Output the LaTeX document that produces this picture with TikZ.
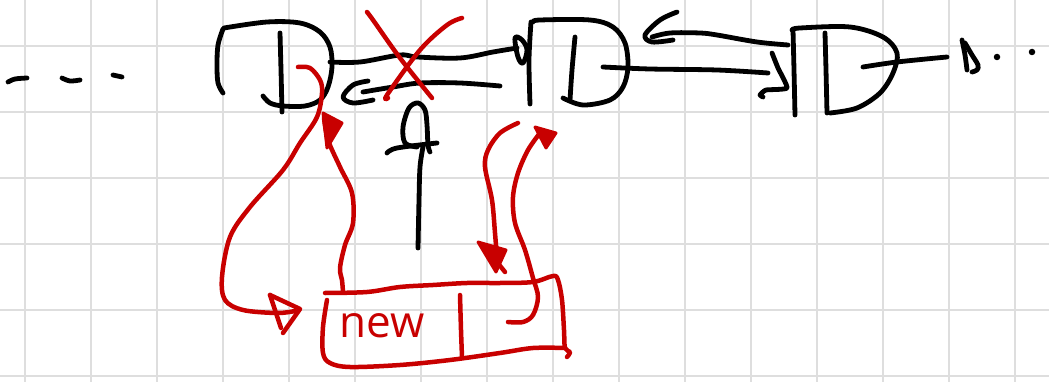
\documentclass[tikz,border=0pt]{standalone}
\usepackage{fontspec}
\setmainfont{Open Sans}
\definecolor{hred}{RGB}{200,0,0}
\definecolor{gridc}{RGB}{222,222,222}
\tikzset{
  blk/.style={draw=black, line width=4.8pt, line cap=round, line join=round},
  rd/.style={draw=hred, line width=4.5pt, line cap=round, line join=round},
  rdfill/.style={draw=hred, fill=hred, line width=3pt, line join=round},
  gridl/.style={draw=gridc, line width=2.2pt},
  hand/.style={smooth, tension=0.55},
  dot/.style={circle, fill=black, inner sep=0pt, minimum size=6.5pt},
}
\begin{document}
\begin{tikzpicture}[x=1pt, y=-1pt]
\useasboundingbox (0,0) rectangle (1049,382);
\fill[white] (0,0) rectangle (1049,382);
% grid
\foreach \gx in {25,91,...,1049} \draw[gridl] (\gx,0) -- (\gx,382);
\foreach \gy in {46,112,...,382} \draw[gridl] (0,\gy) -- (1049,\gy);

% named anchor points
\coordinate (n1next) at (330,62);
\coordinate (n2in) at (517,48);
\coordinate (n2prev) at (500,86);
\coordinate (n1in) at (363,92);
\coordinate (n2next) at (603,67);
\coordinate (n3in) at (768,73);
\coordinate (n3prev) at (788,45);
\coordinate (n2back) at (652,37);
\coordinate (n3next) at (863,67);
\coordinate (n3out) at (947,57);
\coordinate (n1nx) at (298,67);
\coordinate (newin) at (295,311);
\coordinate (newtop) at (343,292);
\coordinate (n1bot) at (324,118);
\coordinate (n2bot) at (518,123);
\coordinate (newtr) at (497,258);
\coordinate (newnx) at (508,322);
\coordinate (n2b) at (540,133);
\coordinate (ptrbot) at (418,248);
\coordinate (ptrtop) at (423,147);

% leading dashes
\draw[blk] plot[hand] coordinates {(8,82) (15,79) (27,78)};
\draw[blk] plot[hand] coordinates {(62,78) (70,81) (80,80)};
\draw[blk] plot[hand] coordinates {(113,75) (122,77)};

% node 1
\draw[blk] plot[hand] coordinates {(223,29) (218,45) (217,65) (218,83) (223,93)};
\draw[blk] plot[hand] coordinates {(224,28) (267,22) (300,23) (320,32) (330,47) (332,67) (328,87) (320,100) (305,106) (283,106) (270,103) (263,96)};
\draw[blk] plot[hand] coordinates {(280,33) (281,70) (282,112)};

% node 2
\draw[blk] plot[hand] coordinates {(531,22) (529,60) (530,104)};
\draw[blk] plot[hand] coordinates {(533,22) (540,20) (590,20) (613,27) (625,43) (628,67) (623,87) (610,100) (583,105) (563,98)};
\draw[blk] plot[hand] coordinates {(575,37) (572,70) (570,100)};

% node 3
\draw[blk] plot[hand] coordinates {(793,30) (794,70) (795,115)};
\draw[blk] plot[hand] coordinates {(792,30) (800,28) (850,27) (883,37) (897,53) (893,73) (880,93) (857,108) (830,113)};
\draw[blk] plot[hand] coordinates {(825,33) (826,70) (827,113)};

% node1 -> node2 (next)
\draw[blk] plot[hand] coordinates {(n1next) (360,62) (400,55) (417,57) (460,58) (493,52) (n2in)};
\draw[blk] plot[smooth cycle, tension=0.6] coordinates {(515,38) (518,57) (523,63) (527,50) (522,40)};
% node2 -> node1 (prev)
\draw[blk] plot[hand] coordinates {(n2prev) (460,83) (420,83) (393,87) (n1in)};
\draw[blk] plot[hand] coordinates {(368,81) (353,85) (343,97) (353,103) (373,100)};

% node2 -> node3
\draw[blk] plot[hand] coordinates {(n2next) (650,69) (717,70) (n3in)};
\draw[blk] plot[tension=0.3, smooth] coordinates {(772,53) (778,68) (787,88) (766,90) (760,95) (763,97)};
% node3 -> node2
\draw[blk] plot[hand] coordinates {(n3prev) (757,42) (717,35) (700,33) (670,33) (n2back)};
\draw[blk] plot[hand] coordinates {(677,12) (660,20) (645,35) (652,42) (673,40)};

% node3 -> ...
\draw[blk] plot[hand] coordinates {(n3next) (897,62) (n3out)};
\draw[blk] plot[hand] coordinates {(962,40) (965,55) (967,70)};
\draw[blk] plot[hand] coordinates {(965,43) (972,55) (978,65) (977,70) (972,72)};
\node[dot] (d1) at (997,57) {};
\node[dot] (d2) at (1032,52) {};

% pointer
\draw[blk] plot[hand] coordinates {(ptrbot) (419,200) (420,167) (ptrtop)};
\draw[blk] plot[hand] coordinates {(430,152) (428,145) (427,125) (425,110) (418,103) (409,108) (403,127) (405,143) (417,147)};
\draw[blk] plot[hand] coordinates {(387,153) (397,148) (437,143)};

% red cross
\draw[rd] plot[hand] coordinates {(367,12) (373,20) (400,58) (432,98)};
\draw[rd] plot[hand] coordinates {(462,18) (447,25) (420,50) (387,95) (388,98)};

% new node
\draw[rd] plot[hand] coordinates {(325,293) (367,292) (400,287) (433,285) (467,283) (500,283) (533,282) (553,276) (558,280) (562,300) (564,330) (565,348) (570,352) (567,357)};
\draw[rd] plot[hand] coordinates {(327,300) (323,327) (323,353) (330,363) (350,367) (400,365) (450,360) (500,353) (533,348) (565,348)};
\draw[rd] plot[hand] coordinates {(460,295) (461,330) (462,357)};
\node[text=hred, font=\fontsize{44}{44}\selectfont, inner sep=0pt] (newlbl) at (382,326) {new};

% red arrow: node1.next -> new
\draw[rd] plot[hand] coordinates {(n1nx) (310,68) (320,80) (322,93) (317,117) (300,143) (283,170) (250,207) (230,237) (222,277) (225,300) (243,310) (277,313) (newin)};
\draw[rd] (270,295) -- (281,328);
\draw[rd] (270,295) -- (300,309) -- (283,333);
% red arrow: new.prev -> node1
\draw[rd] plot[hand] coordinates {(newtop) (342,280) (340,268) (345,245) (353,223) (352,193) (340,167) (328,140) (n1bot)};
\draw[rdfill] (323,113) -- (342,123) -- (327,148) -- cycle;
% red arrow: node2.prev -> new
\draw[rd] plot[hand] coordinates {(n2bot) (500,133) (488,150) (485,167) (492,200) (495,233) (newtr)};
\draw[rdfill] (478,242) -- (506,250) -- (496,272) -- cycle;
\draw[rd] (497,262) -- (505,272);
% red arrow: new.next -> node2
\draw[rd] plot[hand] coordinates {(newnx) (523,322) (533,315) (538,297) (533,278) (525,250) (515,223) (513,197) (518,173) (528,150) (n2b)};
\draw[rdfill] (535,127) -- (556,133) -- (546,148) -- cycle;
\end{tikzpicture}
\end{document}
